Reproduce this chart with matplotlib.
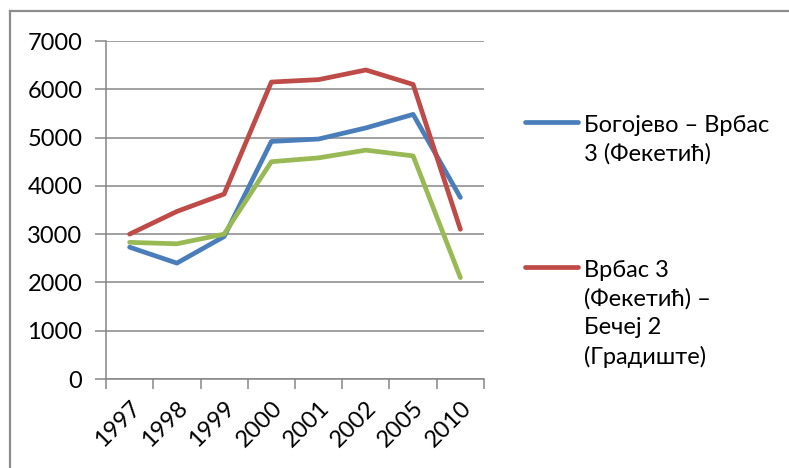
"""Line chart: three road sections, 1997-2010."""
import matplotlib
import matplotlib.pyplot as plt
from matplotlib.lines import Line2D

matplotlib.use("Agg")

plt.rcParams["font.family"] = ["Lato", "DejaVu Sans"]

years = ["1997", "1998", "1999", "2000", "2001", "2002", "2005", "2010"]
bogojevo_vrbas = [2730, 2400, 2950, 4920, 4970, 5200, 5480, 3760]
vrbas_becej = [3000, 3470, 3830, 6150, 6200, 6400, 6100, 3100]
third_series = [2830, 2800, 3000, 4500, 4580, 4740, 4620, 2100]
y_ticks = [0, 1000, 2000, 3000, 4000, 5000, 6000, 7000]

label_blue = "Богојево – Врбас\n3 (Фекетић)"
label_red = "Врбас 3\n(Фекетић) –\nБечеј 2\n(Градиште)"

BLUE = "#4A7EBB"
RED = "#BE4B48"
GREEN = "#98B954"
GRID = "#868686"
FS = 17

W, H = 789, 468
fig = plt.figure(figsize=(W / 100, H / 100), dpi=100)
ax = fig.add_axes([106 / W, 1 - 379 / H, (484 - 106) / W, (379 - 41) / H])

x = list(range(len(years)))
lw = 3.4
ax.plot(x, bogojevo_vrbas, color=BLUE, lw=lw, solid_capstyle="round", zorder=3)
ax.plot(x, vrbas_becej, color=RED, lw=lw, solid_capstyle="round", zorder=3)
ax.plot(x, third_series, color=GREEN, lw=lw, solid_capstyle="round", zorder=3)

ax.set_xlim(-0.5, len(years) - 0.5)
ax.set_ylim(0, 7000)
ax.set_yticks(y_ticks)
ax.set_yticklabels([str(v) for v in y_ticks], fontsize=FS)
ax.yaxis.grid(True, color=GRID, lw=1.1)
ax.set_axisbelow(True)

# category labels in the middle, tick marks on the boundaries
ax.set_xticks(x)
ax.set_xticklabels(years, fontsize=FS, rotation=45, ha="right",
                   rotation_mode="anchor")
ax.set_xticks([i - 0.5 for i in range(len(years) + 1)], minor=True)
ax.tick_params(axis="x", which="major", length=0, pad=13)
ax.tick_params(axis="x", which="minor", length=7, width=1.1, color=GRID,
               direction="out")
ax.tick_params(axis="y", length=8, width=1.1, color=GRID, pad=9)

for side in ("top", "right"):
    ax.spines[side].set_visible(False)
for side in ("left", "bottom"):
    ax.spines[side].set_color(GRID)
    ax.spines[side].set_linewidth(1.1)

# legend drawn by hand (Excel style, line beside first text line)
def legend_entry(y_px, color, text):
    fig.add_artist(Line2D([525 / W, 578 / W], [1 - y_px / H] * 2,
                          color=color, lw=lw, solid_capstyle="round"))
    fig.text(584 / W, 1 - (y_px - 7) / H, text, fontsize=FS,
             va="top", ha="left", linespacing=1.42)

legend_entry(122, BLUE, label_blue)
legend_entry(267, RED, label_red)

# chart area border (cropped at right and bottom)
fig.add_artist(Line2D([10 / W, 1.0], [1 - 11 / H] * 2, color="#8c8c8c", lw=1.6))
fig.add_artist(Line2D([10 / W] * 2, [1 - 11 / H, 0.0], color="#8c8c8c", lw=1.6))

fig.savefig("out.png", dpi=100)
plt.close(fig)
